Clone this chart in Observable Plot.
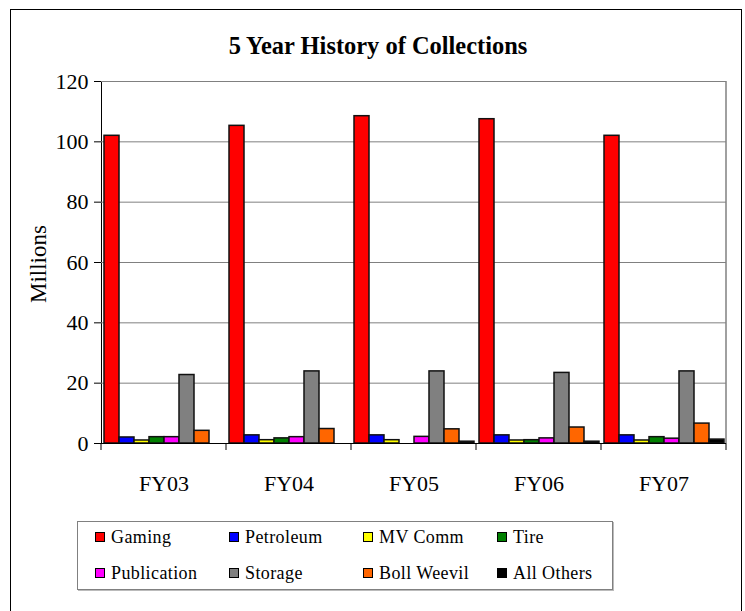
<!DOCTYPE html>
<html><head><meta charset="utf-8">
<script src="https://cdn.jsdelivr.net/npm/d3@7"></script>
<script src="https://cdn.jsdelivr.net/npm/@observablehq/plot@0.6"></script>
<style>
body{margin:0;background:#fff;}
#wrap{position:relative;width:745px;height:611px;font-family:"Liberation Serif","Times New Roman",serif;overflow:hidden;background:#fff;}
#border{position:absolute;left:10px;top:9px;width:732px;height:610px;border:1px solid #000;box-sizing:border-box;}
#title{position:absolute;left:0;top:33px;width:756px;text-align:center;font-family:"Liberation Serif",serif;font-weight:bold;font-size:26px;line-height:26px;color:#000;transform:scaleX(0.94);transform-origin:378px 0;}
#chart{position:absolute;left:0;top:0;}
#ylabel{position:absolute;left:20px;top:220px;}
#legend{position:absolute;left:77px;top:521px;width:536px;height:69px;border:1px solid #808080;box-sizing:border-box;box-shadow:1px 1px 0 #bbb;}
.item{position:absolute;display:flex;align-items:center;font-family:"Liberation Serif","Times New Roman",serif;font-size:18px;line-height:18px;letter-spacing:0.4px;color:#000;white-space:nowrap;}
.sw{width:8px;height:8px;border:1px solid #000;margin-right:6px;flex:none;}
</style></head>
<body><div id="wrap">
<div id="border"></div>
<div id="chart"></div>
<div id="title">5 Year History of Collections</div>
<svg id="ylabel" width="32" height="86"><text transform="translate(26,83) rotate(-90)" font-family="Liberation Serif" font-size="23" fill="#000">Millions</text></svg>
<div id="legend"></div>
</div>
<script>
const years = ["FY03", "FY04", "FY05", "FY06", "FY07"];
const categories = ["Gaming", "Petroleum", "MV Comm", "Tire", "Publication", "Storage", "Boll Weevil", "All Others"];
const colors = ["#ff0000", "#0000ff", "#ffff00", "#008000", "#ff00ff", "#808080", "#ff6600", "#000000"];
const gaming = [102, 105.3, 108.5, 107.5, 102];
const petroleum = [2.0, 2.7, 2.7, 2.7, 2.7];
const mvComm = [1.0, 1.1, 1.1, 1.0, 1.0];
const tire = [2.1, 1.7, 0, 1.1, 2.1];
const publication = [2.1, 2.1, 2.2, 1.7, 1.6];
const storage = [22.7, 23.9, 23.9, 23.4, 23.9];
const bollWeevil = [4.2, 4.8, 4.7, 5.3, 6.6];
const allOthers = [0, 0, 0.6, 0.6, 1.3];
const yTicks = [0, 20, 40, 60, 80, 100, 120];

const series = [gaming, petroleum, mvComm, tire, publication, storage, bollWeevil, allOthers];
const data = [];
years.forEach((yr, i) => categories.forEach((c, j) => data.push({year: yr, cat: c, value: series[j][i]})));

const chart = Plot.plot({
  width: 745, height: 505,
  marginLeft: 100, marginRight: 19, marginTop: 81, marginBottom: 62,
  style: {fontFamily: "Liberation Serif, serif", fontSize: "22px", background: "transparent", color: "#000"},
  fx: {domain: years, padding: 0, label: null, tickSize: 0, tickPadding: 32, axis: "bottom"},
  x: {domain: categories, paddingInner: 0, paddingOuter: 0.1, axis: null},
  y: {domain: [0, 120], ticks: yTicks, tickSize: 7, tickPadding: 6, label: null, line: true},
  color: {domain: categories, range: colors},
  marks: [
    Plot.ruleY(yTicks.filter(d => d > 0), {stroke: "#808080", strokeWidth: 1}),
    Plot.barY(data.filter(d => d.value > 0), {fx: "year", x: "cat", y: "value", fill: "cat", stroke: "#111", strokeWidth: 1.5}),
    Plot.ruleY([0], {stroke: "#000", strokeWidth: 1})
  ]
});
document.getElementById("chart").appendChild(chart);

// group boundary ticks and right frame edge, placed with the plot's own scales
const fxs = chart.scale("fx"), ys = chart.scale("y");
const svg = d3.select(chart);
const y0 = ys.apply(0), yTop = ys.apply(120);
const edges = years.map(v => fxs.apply(v)).concat([fxs.apply(years[years.length - 1]) + fxs.bandwidth]);
svg.append("g").selectAll("line").data(edges).join("line")
  .attr("x1", d => d).attr("x2", d => d).attr("y1", y0).attr("y2", y0 + 7)
  .attr("stroke", "#000").attr("stroke-width", 1);
svg.append("line").attr("x1", edges[edges.length - 1]).attr("x2", edges[edges.length - 1])
  .attr("y1", yTop).attr("y2", y0).attr("stroke", "#808080").attr("stroke-width", 1.5);

// legend
const legend = document.getElementById("legend");
categories.forEach((c, i) => {
  const col = i % 4, row = Math.floor(i / 4);
  const it = document.createElement("div");
  it.className = "item";
  it.style.left = (17 + col * 134) + "px";
  it.style.top = (6 + row * 36) + "px";
  const sw = document.createElement("div");
  sw.className = "sw";
  sw.style.background = colors[i];
  it.appendChild(sw);
  it.appendChild(document.createTextNode(c));
  legend.appendChild(it);
});
</script>
</body></html>
